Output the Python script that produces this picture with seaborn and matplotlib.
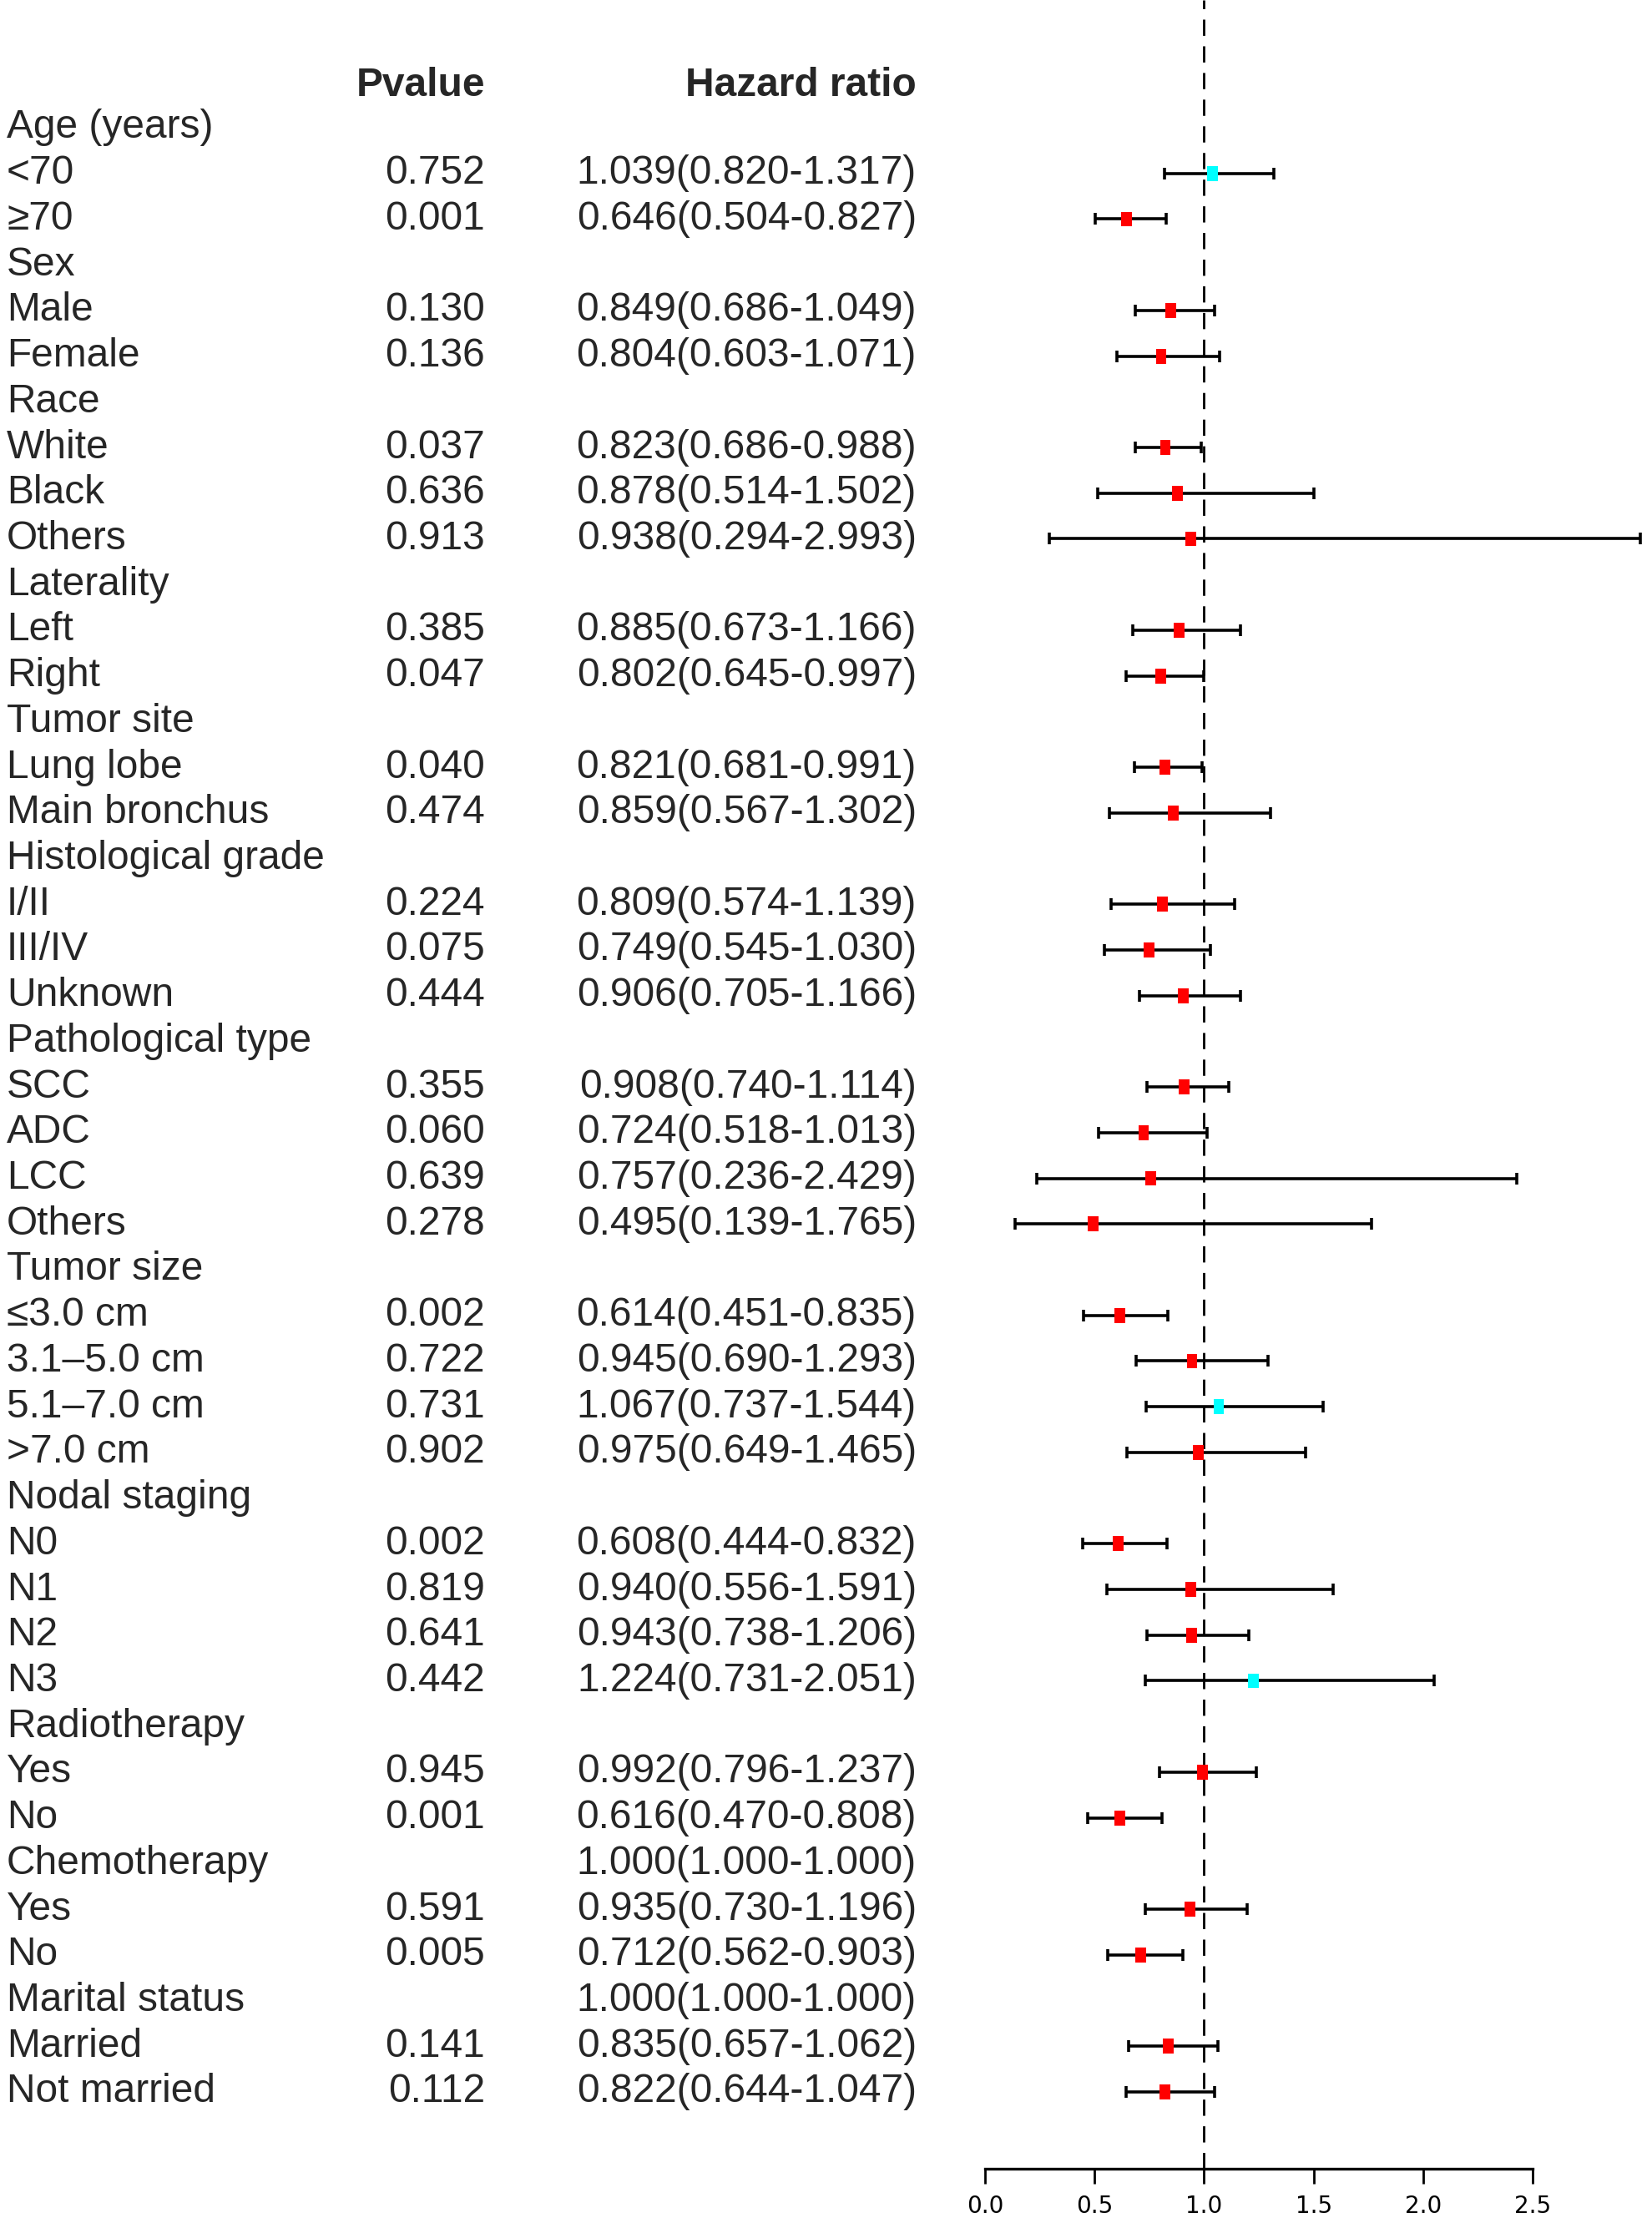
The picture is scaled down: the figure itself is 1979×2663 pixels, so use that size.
import numpy as np
import pandas as pd
import matplotlib
matplotlib.use("Agg")
import matplotlib.pyplot as plt
import matplotlib.transforms as mtransforms
import seaborn as sns

# Subgroup labels, p-values and hazard ratios
labels = ['Age (years)', '<70', '≥70', 'Sex', 'Male', 'Female', 'Race', 'White', 'Black', 'Others',
          'Laterality', 'Left', 'Right', 'Tumor site', 'Lung lobe', 'Main bronchus',
          'Histological grade', 'I/II', 'III/IV', 'Unknown', 'Pathological type', 'SCC', 'ADC',
          'LCC', 'Others', 'Tumor size', '≤3.0 cm', '3.1–5.0 cm', '5.1–7.0 cm', '>7.0 cm',
          'Nodal staging', 'N0', 'N1', 'N2', 'N3', 'Radiotherapy', 'Yes', 'No', 'Chemotherapy',
          'Yes', 'No', 'Marital status', 'Married', 'Not married']
pvalues = ['', '0.752', '0.001', '', '0.130', '0.136', '', '0.037', '0.636', '0.913',
           '', '0.385', '0.047', '', '0.040', '0.474',
           '', '0.224', '0.075', '0.444', '', '0.355', '0.060',
           '0.639', '0.278', '', '0.002', '0.722', '0.731', '0.902',
           '', '0.002', '0.819', '0.641', '0.442', '', '0.945', '0.001', '',
           '0.591', '0.005', '', '0.141', '0.112']
hr = [np.nan, 1.039, 0.646, np.nan, 0.849, 0.804, np.nan, 0.823, 0.878, 0.938,
      np.nan, 0.885, 0.802, np.nan, 0.821, 0.859,
      np.nan, 0.809, 0.749, 0.906, np.nan, 0.908, 0.724,
      0.757, 0.495, np.nan, 0.614, 0.945, 1.067, 0.975,
      np.nan, 0.608, 0.940, 0.943, 1.224, np.nan, 0.992, 0.616, 1.000,
      0.935, 0.712, 1.000, 0.835, 0.822]
lower = [np.nan, 0.820, 0.504, np.nan, 0.686, 0.603, np.nan, 0.686, 0.514, 0.294,
         np.nan, 0.673, 0.645, np.nan, 0.681, 0.567,
         np.nan, 0.574, 0.545, 0.705, np.nan, 0.740, 0.518,
         0.236, 0.139, np.nan, 0.451, 0.690, 0.737, 0.649,
         np.nan, 0.444, 0.556, 0.738, 0.731, np.nan, 0.796, 0.470, 1.000,
         0.730, 0.562, 1.000, 0.657, 0.644]
upper = [np.nan, 1.317, 0.827, np.nan, 1.049, 1.071, np.nan, 0.988, 1.502, 2.993,
         np.nan, 1.166, 0.997, np.nan, 0.991, 1.302,
         np.nan, 1.139, 1.030, 1.166, np.nan, 1.114, 1.013,
         2.429, 1.765, np.nan, 0.835, 1.293, 1.544, 1.465,
         np.nan, 0.832, 1.591, 1.206, 2.051, np.nan, 1.237, 0.808, 1.000,
         1.196, 0.903, 1.000, 1.062, 1.047]
x_ticks = [0.0, 0.5, 1.0, 1.5, 2.0, 2.5]

df = pd.DataFrame({'label': labels, 'p': pvalues, 'hr': hr, 'lo': lower, 'hi': upper})
df['row'] = np.arange(len(df))
df['ci_text'] = [f'{h:.3f}({l:.3f}-{u:.3f})' if not np.isnan(h) else ''
                 for h, l, u in zip(df.hr, df.lo, df.hi)]

sns.set_theme(style='white')
plt.rcParams['font.family'] = ['Liberation Sans', 'DejaVu Sans']

W, H = 1979, 2663
fig = plt.figure(figsize=(W / 100, H / 100), dpi=100)

# axes placed so that the HR scale sits in the right part of the figure
x0_px, x1_px = 1180, 1836
top_px, axis_px = 0, 2598
row0_px, step_px = 153, 54.72
ax = fig.add_axes([x0_px / W, 1 - axis_px / H, (x1_px - x0_px) / W, (axis_px - top_px) / H])
ax.set_xlim(0, 2.5)
ax.set_ylim((axis_px - row0_px) / step_px, (top_px - row0_px) / step_px)

# reference line at HR = 1
ax.axvline(1.0, color='black', lw=2, ls=(0, (7, 4.5)), zorder=1)

pts = df.dropna(subset=['hr'])
pts = pts[pts.hi > pts.lo]
ax.errorbar(pts.hr, pts.row, xerr=[pts.hr - pts.lo, pts.hi - pts.hr], fmt='none',
            ecolor='black', elinewidth=2.6, capsize=5, capthick=2.6, clip_on=False, zorder=2)

pts = pts.assign(side=np.where(pts.hr > 1, 'up', 'down'))
box = [(-0.36, -0.5), (0.36, -0.5), (0.36, 0.5), (-0.36, 0.5), (-0.36, -0.5)]
sns.scatterplot(data=pts, x='hr', y='row', hue='side', palette={'down': '#FF0000', 'up': '#00FFFF'},
                marker=box, s=165, linewidth=0, legend=False, ax=ax, zorder=3, clip_on=False)

# bottom axis only
for s in ['left', 'right', 'top']:
    ax.spines[s].set_visible(False)
ax.spines['bottom'].set_bounds(0, 2.5)
ax.spines['bottom'].set_linewidth(2.4)
ax.spines['bottom'].set_color('black')
ax.set_xticks(x_ticks)
ax.set_xticklabels([f'{t:.1f}' for t in x_ticks], family=['Liberation Sans Narrow', 'DejaVu Sans'])
ax.tick_params(axis='x', bottom=True, direction='out', length=13, width=2, pad=9,
               labelsize=20, colors='black')
ax.set_yticks([])
ax.set_xlabel('')
ax.set_ylabel('')

# text columns
trans = mtransforms.blended_transform_factory(fig.transFigure, ax.transData)
fs = 34.5
p_x, ci_x = 581 / W, 1098 / W
ax.text(p_x, -0.92, 'Pvalue', transform=trans, ha='right', va='center', fontsize=fs, fontweight='bold')
ax.text(ci_x, -0.92, 'Hazard ratio', transform=trans, ha='right', va='center', fontsize=fs, fontweight='bold')
for _, r in df.iterrows():
    ax.text(8 / W, r.row, r.label, transform=trans, ha='left', va='center', fontsize=fs)
    ax.text(p_x, r.row, r.p, transform=trans, ha='right', va='center', fontsize=fs)
    ax.text(ci_x, r.row, r.ci_text, transform=trans, ha='right', va='center', fontsize=fs)

fig.savefig('out.png', dpi=100, facecolor='white')
